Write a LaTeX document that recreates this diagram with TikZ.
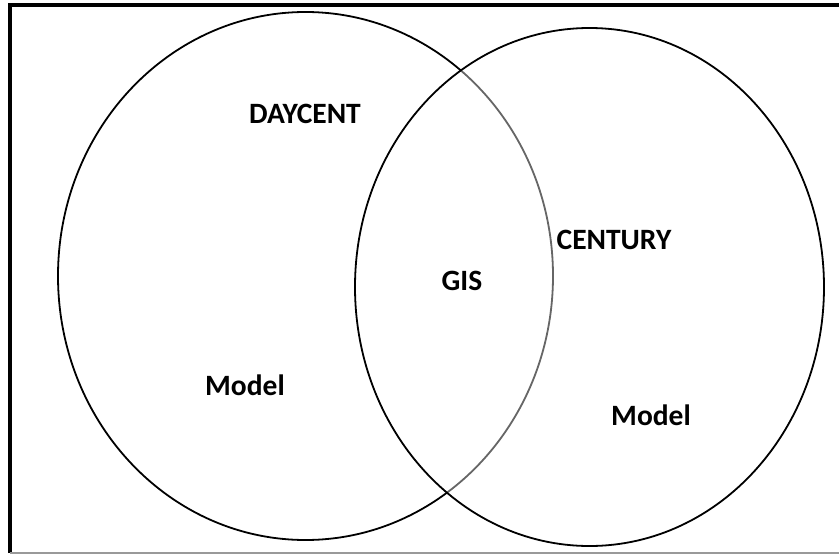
\documentclass[tikz,border=0pt]{standalone}
\usepackage{fontspec}
\setmainfont{Carlito}
\begin{document}
\begin{tikzpicture}[x=1pt,y=-1pt,
  ring/.style={draw=black,line width=1.8pt},
  lbl/.style={font=\bfseries\fontsize{29.5}{33}\selectfont,inner sep=0pt}]
\useasboundingbox (0,0) rectangle (839,554);
\fill[white] (0,0) rectangle (839,554);
% page frame
\draw[line width=4pt] (10,553) -- (10,5) -- (845,5);
\draw[gray!80,line width=1.2pt] (10,553) -- (845,553);
% the two sets
\draw[ring] (305.5,276) ellipse [x radius=247.5,y radius=264];
\fill[white,fill opacity=0.4] (589.5,287) ellipse [x radius=234.5,y radius=259];
\draw[ring] (589.5,287) ellipse [x radius=234.5,y radius=259];
% labels
\node[lbl] (daycent) at (305,114) {DAYCENT};
\node[lbl] (gis) at (462,281) {GIS};
\node[lbl] (century) at (614,240) {CENTURY};
\node[lbl] (modelL) at (245,385) {Model};
\node[lbl] (modelR) at (651,415) {Model};
\end{tikzpicture}
\end{document}
